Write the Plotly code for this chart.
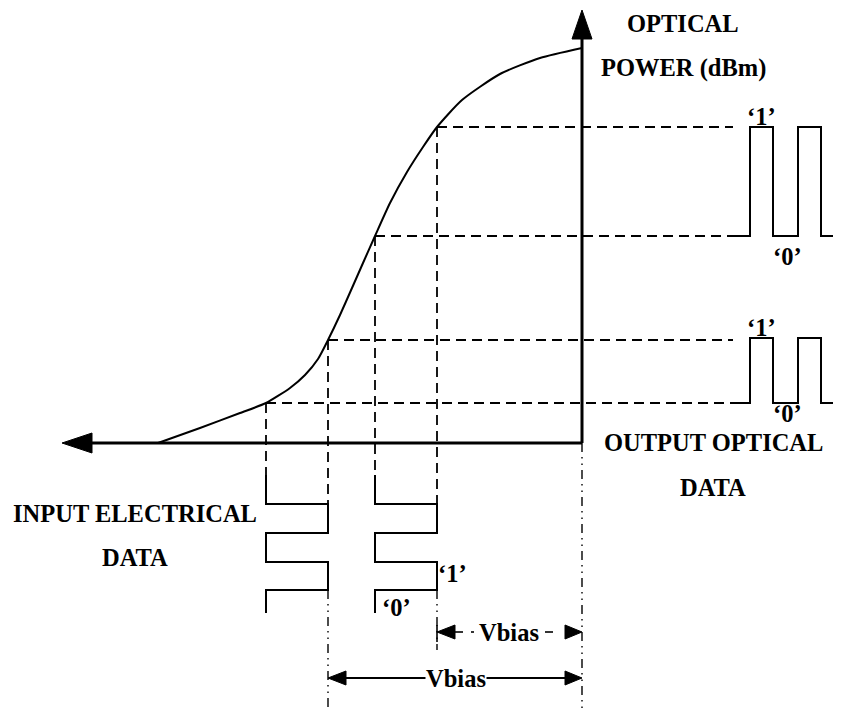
import plotly.graph_objects as go

# ---- data (diagram coordinates, pixel-like units, y grows downward) ----
# transfer curve: drive voltage (x) vs optical power (y)
curve_x = [158, 200, 240, 266, 290, 305, 318, 328, 340, 352, 363, 375, 390, 407, 423, 437, 462, 500, 540, 582]
curve_y = [443, 428, 413, 403, 388, 375, 359, 340, 315, 288, 263, 236, 203, 172, 147, 127, 100, 74, 58, 48]

# operating points on curve (input levels)
op_x = [266, 328, 375, 437]
op_y = [403, 340, 236, 127]

# axes origin and extents
origin = (582, 443)
vaxis_top = 10
haxis_left = 62

# input electrical data (time runs downward)
in_t = [475, 504, 533, 562, 590, 613]
in_pairs = [(266, 328), (375, 437)]

# output optical data (time runs rightward)
out_edges = [750, 773, 798, 821]
out_levels = [(236, 127), (403, 338)]
out_start, out_end = 733, 841

# bias extents
vbias_rows = [(437, 632), (328, 678)]
dim_bottom = [(328, 590, 712), (437, 590, 650), (582, 443, 712)]

FONT = "Liberation Serif"
K = "black"
FS = 24.5

fig = go.Figure()

def line(xs, ys, width=1.5, dash="solid", color=K):
    fig.add_trace(go.Scatter(x=xs, y=ys, mode="lines",
                             line=dict(color=color, width=width, dash=dash),
                             hoverinfo="skip", showlegend=False))

def tri(xs, ys):
    fig.add_trace(go.Scatter(x=xs + [xs[0]], y=ys + [ys[0]], mode="lines",
                             fill="toself", fillcolor=K, line=dict(color=K, width=1),
                             hoverinfo="skip", showlegend=False))

DASH = "10px,6px"
DASHDOT = "9px,5px,1.5px,5px,1.5px,5px"
DW = 1.8

# horizontal dashed projections
for px, py in zip(op_x, op_y):
    end = out_edges[0] if py in (out_levels[0][0], out_levels[1][0]) else out_start
    line([px, end], [py, py], width=DW, dash=DASH)

# vertical dashed projections down to input signal
line([op_x[0], op_x[0]], [op_y[0], in_t[0]], width=DW, dash=DASH)
line([op_x[1], op_x[1]], [op_y[1], in_t[1]], width=DW, dash=DASH)
line([op_x[2], op_x[2]], [op_y[2], in_t[0] + 2], width=DW, dash=DASH)
line([op_x[3], op_x[3]], [op_y[3], in_t[1]], width=DW, dash=DASH)

# dash-dot extension lines
for x, y0, y1 in dim_bottom:
    line([x, x], [y0, y1], width=1.4, dash=DASHDOT)

# axes
line([origin[0], origin[0]], [origin[1], vaxis_top + 20], width=3)
line([origin[0], haxis_left + 20], [origin[1], origin[1]], width=3)
tri([origin[0], origin[0] - 10, origin[0] + 10], [vaxis_top, vaxis_top + 29, vaxis_top + 29])
tri([haxis_left, haxis_left + 30, haxis_left + 30], [origin[1], origin[1] - 10, origin[1] + 10])

# transfer curve
fig.add_trace(go.Scatter(x=curve_x, y=curve_y, mode="lines",
                         line=dict(color=K, width=2, shape="spline", smoothing=0.6),
                         hoverinfo="skip", showlegend=False))

# input electrical data (square waves)
for lo, hi in in_pairs:
    t = in_t
    xs = [lo, lo, hi, hi, lo, lo, hi, hi, lo, lo]
    ys = [t[0], t[1], t[1], t[2], t[2], t[3], t[3], t[4], t[4], t[5]]
    line(xs, ys, width=2)

# output optical data
for low, high in out_levels:
    e = out_edges
    xs = [out_start, e[0], e[0], e[1], e[1], e[2], e[2], e[3], e[3], out_end]
    ys = [low, low, high, high, low, low, high, high, low, low]
    line(xs, ys, width=2)

# Vbias dimension arrows
(x_a, y_a), (x_b, y_b) = vbias_rows
ox = origin[0]
line([x_a + 16, x_a + 26], [y_a, y_a], width=1.6)
line([x_a + 34, x_a + 37], [y_a, y_a], width=1.6)
line([ox - 37, ox - 29], [y_a, y_a], width=1.6)
tri([x_a, x_a + 18, x_a + 18], [y_a, y_a - 7, y_a + 7])
tri([ox, ox - 17, ox - 17], [y_a, y_a - 7, y_a + 7])
line([x_a, x_a], [y_a - 7, y_a + 10], width=1.6)

line([x_b + 16, ox - 16], [y_b, y_b], width=1.9)
tri([x_b, x_b + 18, x_b + 18], [y_b, y_b - 7, y_b + 7])
tri([ox, ox - 17, ox - 17], [y_b, y_b - 7, y_b + 7])

# texts
def txt(x, y, s, bg=None, size=FS):
    fig.add_annotation(x=x, y=y, text=s, showarrow=False, xanchor="center", yanchor="middle",
                       font=dict(family=FONT, size=size, color=K),
                       bgcolor=bg if bg else "rgba(0,0,0,0)", borderpad=0)

txt(683, 23, "<b>OPTICAL</b>")
txt(683, 68, "<b>POWER (dBm)</b>")
txt(713, 442, "<b>OUTPUT OPTICAL</b>")
txt(713, 487, "<b>DATA</b>")
txt(135, 513, "<b>INPUT ELECTRICAL</b>")
txt(135, 557, "<b>DATA</b>")
txt(761, 116, "<b>‘1’</b>")
txt(787, 256, "<b>‘0’</b>")
txt(761, 327, "<b>‘1’</b>")
txt(787, 413, "<b>‘0’</b>")
txt(452, 573, "<b>‘1’</b>")
txt(396, 607, "<b>‘0’</b>")
txt(509, 632, "<b>Vbias</b>")
txt(456, 678, "<b>Vbias</b>", bg="white")

# the page body has an 8px margin: offset the ranges so diagram units map to page pixels
OFF = 8
fig.update_layout(
    width=841 - OFF, height=718 - OFF,
    margin=dict(l=0, r=0, t=0, b=0),
    paper_bgcolor="white", plot_bgcolor="white",
    xaxis=dict(range=[OFF, 841], visible=False, fixedrange=True),
    yaxis=dict(range=[718, OFF], visible=False, fixedrange=True),
    showlegend=False,
)

fig.write_html("out.html")
